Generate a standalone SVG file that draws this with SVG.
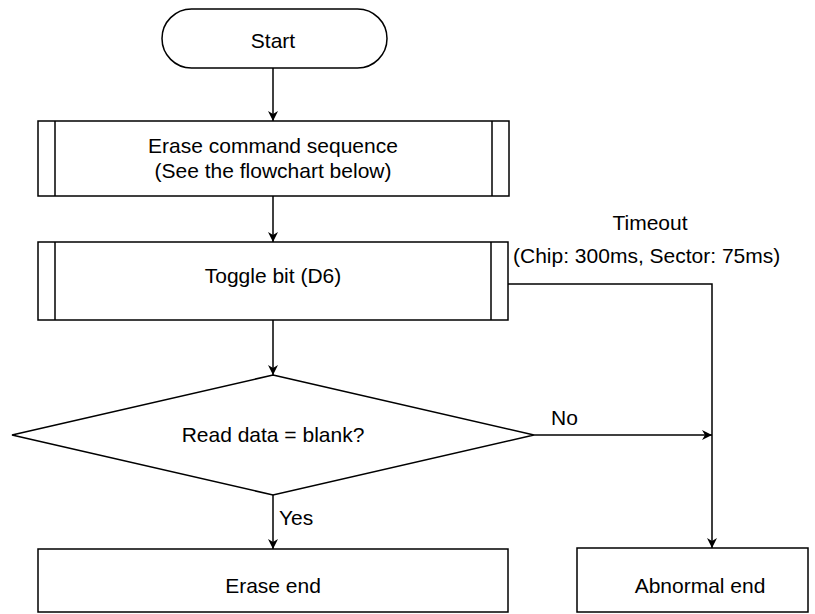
<svg xmlns="http://www.w3.org/2000/svg" width="815" height="614" viewBox="0 0 815 614">
<style>
.s{fill:#fff;stroke:#000;stroke-width:1.5}
.l{fill:none;stroke:#000;stroke-width:1.5}
text{font-family:"Liberation Sans",Arial,sans-serif;font-size:21px;fill:#000}
.c{text-anchor:middle}
</style>
<defs>
<marker id="a" viewBox="0 0 10 10" refX="10" refY="5" markerWidth="10" markerHeight="10" markerUnits="userSpaceOnUse" orient="auto">
<path d="M0,0 L10,5 L0,10 L3,5 Z" fill="#000"/>
</marker>
</defs>
<g id="start"><rect class="s" x="162" y="9" width="225" height="59" rx="29.5"/><text class="c" x="273" y="48">Start</text></g>
<g id="erase-cmd"><rect class="s" x="38" y="121" width="471" height="75"/><line class="l" x1="55" y1="121" x2="55" y2="196"/><line class="l" x1="492" y1="121" x2="492" y2="196"/><text class="c" x="273" y="153">Erase command sequence</text><text class="c" x="273" y="178">(See the flowchart below)</text></g>
<g id="toggle"><rect class="s" x="38" y="242" width="470" height="78"/><line class="l" x1="55" y1="242" x2="55" y2="320"/><line class="l" x1="491" y1="242" x2="491" y2="320"/><text class="c" x="273" y="283">Toggle bit (D6)</text></g>
<g id="decision"><polygon class="s" points="273,375 534,435 273,495 12,435"/><text class="c" x="273" y="442">Read data = blank?</text></g>
<g id="erase-end"><rect class="s" x="38" y="549" width="470" height="63"/><text class="c" x="273" y="593">Erase end</text></g>
<g id="abnormal-end"><rect class="s" x="577" y="548" width="231" height="64"/><text class="c" x="700" y="593">Abnormal end</text></g>
<g id="connectors">
<line class="l" x1="273" y1="68" x2="273" y2="121" marker-end="url(#a)"/>
<line class="l" x1="273" y1="196" x2="273" y2="242" marker-end="url(#a)"/>
<line class="l" x1="273" y1="320" x2="273" y2="375" marker-end="url(#a)"/>
<line class="l" x1="273" y1="495" x2="273" y2="549" marker-end="url(#a)"/>
<line class="l" x1="534" y1="435" x2="712" y2="435" marker-end="url(#a)"/>
<polyline class="l" points="508,284 712,284 712,548" marker-end="url(#a)"/>
<text x="279" y="525">Yes</text>
<text x="551" y="425">No</text>
<text class="c" x="650" y="230">Timeout</text>
<text x="513" y="263">(Chip: 300ms, Sector: 75ms)</text>
</g>
</svg>
